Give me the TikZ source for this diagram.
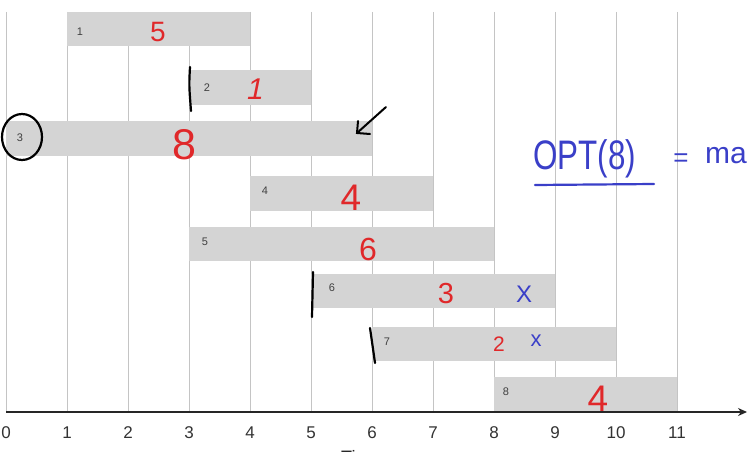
\documentclass[tikz,border=0pt]{standalone}
\usepackage{fontspec}
\setmainfont{Liberation Sans}
\usetikzlibrary{arrows.meta}
\definecolor{gridc}{HTML}{C4C4C4}
\definecolor{barc}{HTML}{D4D4D4}
\definecolor{hred}{HTML}{E0282A}
\definecolor{hblue}{HTML}{3A3FC8}
\newcommand{\fs}[1]{\fontsize{#1}{#1}\selectfont}
\tikzset{
  gridline/.style={draw=gridc, line width=1pt},
  barbox/.style={fill=barc, draw=none, inner sep=0pt},
  lbl/.style={inner sep=0pt, font=\fs{11}, text=black!75},
  redn/.style={inner sep=0pt, text=hred},
  bluen/.style={inner sep=0pt, text=hblue},
  tick/.style={inner sep=0pt, font=\fs{17}, text=black!80},
  pen/.style={line width=2.2pt, line cap=round, black},
}
\begin{document}
\begin{tikzpicture}[x=1pt,y=-1pt]
\useasboundingbox (0,0) rectangle (752,452);
\fill[white] (0,0) rectangle (752,452);
% grid
\foreach \i in {0,...,11}{
  \draw[gridline] ({6+61*\i},12) -- ({6+61*\i},412);
}
% bars
\node[barbox, minimum width=183pt, minimum height=34pt] (b1) at (158.5,29) {};
\node[barbox, minimum width=122pt, minimum height=35pt] (b2) at (250,87.5) {};
\node[barbox, minimum width=366pt, minimum height=35pt] (b3) at (189,138.5) {};
\node[barbox, minimum width=183pt, minimum height=35pt] (b4) at (341.5,193.5) {};
\node[barbox, minimum width=305pt, minimum height=34pt] (b5) at (341.5,244) {};
\node[barbox, minimum width=244pt, minimum height=34pt] (b6) at (433,291) {};
\node[barbox, minimum width=244pt, minimum height=34pt] (b7) at (494,344) {};
\node[barbox, minimum width=183pt, minimum height=35pt] (b8) at (585.5,394.5) {};
% small labels
\node[lbl] (l1) at (80,32) {1};
\node[lbl] (l2) at (207,88) {2};
\node[lbl] (l3) at (20,138) {3};
\node[lbl] (l4) at (265,191) {4};
\node[lbl] (l5) at (205,242) {5};
\node[lbl] (l6) at (332,288) {6};
\node[lbl] (l7) at (387,342) {7};
\node[lbl] (l8) at (506,392) {8};
% red values
\node[redn, font=\fs{28}] (v1) at (158,32) {5};
\node[redn, font=\fs{30}, xslant=0.2] (v2) at (256,89) {1};
\node[redn, font=\fs{43}] (v3) at (184,145) {8};
\node[redn, font=\fs{37}] (v4) at (351,198) {4};
\node[redn, font=\fs{32}] (v5) at (368,249) {6};
\node[redn, font=\fs{29}] (v6) at (446,294) {3};
\node[redn, font=\fs{21}] (v7) at (499,344) {2};
\node[redn, font=\fs{37}] (v8) at (598,399) {4};
\node[bluen, font=\fs{24}] (x6) at (524,294) {X};
\node[bluen, font=\fs{22}] (x7) at (536,341) {x};
% axis
\coordinate (ax0) at (6,412);
\coordinate (ax1) at (747,412);
\draw[line width=1.6pt, black!85, -{Stealth[length=9pt,width=8pt]}] (ax0) -- (ax1);
\foreach \i in {0,...,11}{
  \node[tick] (t\i) at ({6+61*\i},433) {\i};
}
\node[inner sep=0pt, font=\fs{18}, anchor=base west, text=black!85] (time) at (341,463) {Time};
% handwritten annotations
\draw[pen] (190,67) .. controls (189,85) .. (191,111);
\draw[pen] (313,272) .. controls (312,295) .. (312,317);
\draw[pen] (370,328) -- (375,363);
\draw[pen] (22,137) ellipse [x radius=20pt, y radius=23pt];
\coordinate (arS) at (386,107);
\coordinate (arE) at (357,133);
\draw[pen, line width=2pt] (arS) -- (arE);
\draw[pen, line width=2pt] (358,121) -- (arE) -- (370,134);
% OPT(8) = ma
\node[bluen, font=\fs{33}, anchor=base west, yscale=1.25, xscale=0.95] (opt) at (533,169) {OPT(8)};
\coordinate (ulS) at (535,185);
\coordinate (ulE) at (654,184);
\draw[hblue, line width=2.2pt, line cap=round] (ulS) -- (ulE);
\node[bluen, font=\fs{26}] (eq) at (681,160) {=};
\node[bluen, font=\fs{30}, anchor=base west] (ma) at (705,163) {ma};
\end{tikzpicture}
\end{document}
